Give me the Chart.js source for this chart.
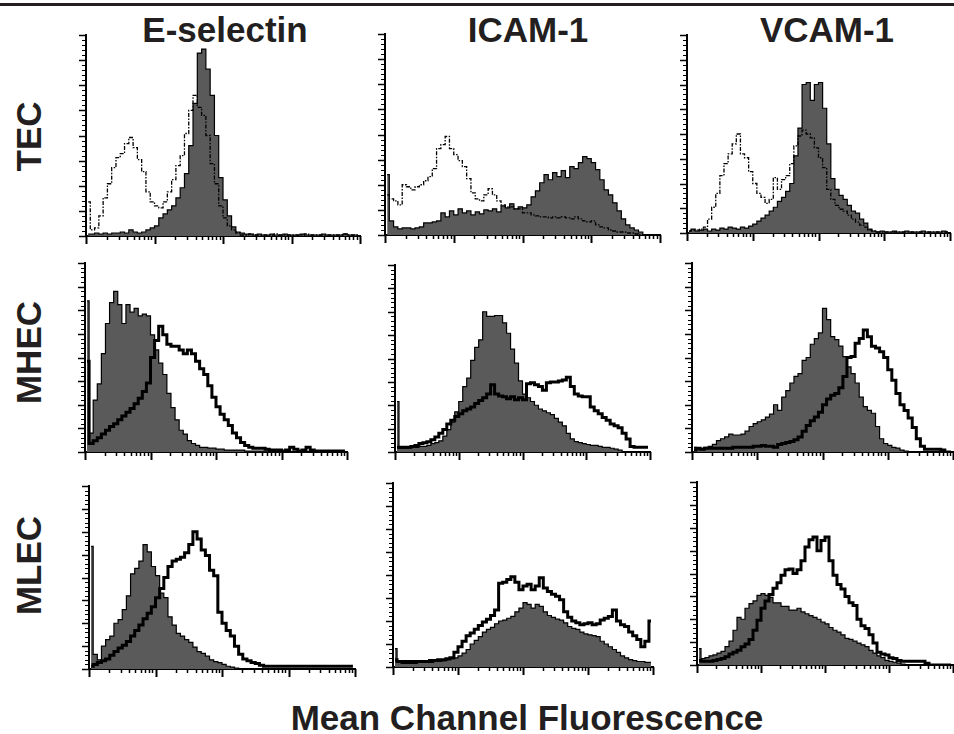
<!DOCTYPE html>
<html>
<head>
<meta charset="utf-8">
<script src="https://cdn.jsdelivr.net/npm/chart.js@4.4.1/dist/chart.umd.min.js"></script>
<style>
    body { margin: 0; background: #fff; width: 954px; height: 734px; position: relative; overflow: hidden;
           font-family: "Liberation Sans", Arial, Helvetica, sans-serif; }
    .topline { position: absolute; left: 0; top: 3px; width: 954px; height: 3px; background: #231f20; }
    .lbl { position: absolute; font-weight: bold; font-size: 35px; line-height: 35px; color: #231f20;
           white-space: nowrap; text-align: center; }
    canvas { position: absolute; }
</style>
</head>
<body>
<div class="topline"></div>
<script>
// Column / row names and axis title
const columnTitles = ['E-selectin', 'ICAM-1', 'VCAM-1'];
const rowTitles = ['TEC', 'MHEC', 'MLEC'];
const xTitle = 'Mean Channel Fluorescence';

// 64 channel bins over 4 log decades (1024 channels, 256 per decade)
const BINS = [8, 24, 40, 56, 72, 88, 104, 120, 136, 152, 168, 184, 200, 216, 232, 248,
    264, 280, 296, 312, 328, 344, 360, 376, 392, 408, 424, 440, 456, 472, 488, 504,
    520, 536, 552, 568, 584, 600, 616, 632, 648, 664, 680, 696, 712, 728, 744, 760,
    776, 792, 808, 824, 840, 856, 872, 888, 904, 920, 936, 952, 968, 984, 1000, 1016];
const DECADES = [0, 256, 512, 768, 1024];
const Y_MAX = 200;

// Row 1 - TEC (filled = antibody, open = control, dash-dot)
const ESEL_TEC_FILLED = [2, 2, 3, 2, 3, 2, 3, 3, 4, 3, 6, 4, 3, 4, 6, 8, 10, 18, 22, 26,
    30, 38, 48, 62, 90, 132, 182, 186, 166, 140, 100, 58, 36, 20, 9, 4, 3, 2, 2, 1,
    2, 1, 1, 2, 1, 1, 2, 1, 1, 1, 2, 1, 1, 1, 1, 2, 1, 1, 1, 1, 2, 1, 1, 1];
const ESEL_TEC_OPEN = [34, 6, 8, 20, 38, 52, 68, 78, 82, 92, 98, 88, 76, 64, 44, 34, 30, 28, 34, 44,
    56, 70, 80, 102, 125, 140, 128, 120, 100, 72, 52, 30, 18, 10, 6, 3, 1, 1, 2, 1,
    1, 1, 1, 1, 2, 1, 1, 1, 1, 1, 1, 2, 1, 1, 1, 1, 1, 1, 1, 1, 2, 1, 1, 1];
const ICAM_TEC_FILLED = [60, 14, 8, 6, 7, 7, 6, 7, 8, 12, 12, 13, 14, 22, 18, 24, 20, 26, 22, 24,
    20, 23, 21, 25, 24, 26, 23, 29, 27, 31, 26, 28, 27, 30, 38, 44, 52, 60, 55, 62,
    58, 64, 57, 68, 66, 72, 78, 76, 72, 65, 55, 45, 40, 32, 24, 16, 10, 7, 5, 3, 0, 0, 0, 0];
const ICAM_TEC_OPEN = [40, 36, 34, 30, 50, 48, 45, 48, 50, 54, 58, 66, 86, 90, 98, 86, 80, 74, 68, 56,
    42, 36, 34, 40, 46, 40, 34, 30, 28, 28, 26, 26, 22, 22, 20, 19, 18, 18, 17, 18,
    17, 18, 17, 16, 18, 16, 14, 13, 14, 10, 8, 7, 5, 4, 3, 3, 2, 2, 1, 0, 0, 0, 0, 0];
const VCAM_TEC_FILLED = [2, 4, 2, 3, 4, 2, 4, 3, 5, 4, 6, 5, 4, 6, 5, 7, 9, 12, 15, 18,
    22, 26, 32, 36, 42, 50, 78, 106, 150, 152, 134, 150, 152, 126, 90, 55, 44, 38, 34, 28,
    22, 20, 14, 10, 4, 2, 1, 2, 1, 1, 2, 1, 1, 2, 1, 1, 1, 2, 1, 1, 1, 1, 2, 1];
const VCAM_TEC_OPEN = [2, 3, 3, 4, 6, 14, 26, 40, 58, 70, 80, 90, 100, 80, 76, 62, 50, 40, 36, 30,
    34, 56, 44, 54, 58, 70, 88, 98, 104, 100, 96, 86, 76, 66, 44, 34, 28, 24, 22, 18,
    14, 11, 8, 6, 3, 2, 1, 1, 1, 1, 1, 1, 1, 1, 1, 1, 1, 1, 1, 1, 1, 1, 1, 1];

// Row 2 - MHEC (filled = control, open = antibody, thick)
const ESEL_MHEC_FILLED = [160, 20, 55, 72, 104, 136, 158, 170, 156, 136, 156, 148, 152, 144, 146, 144, 124, 108, 94, 82,
    62, 47, 34, 23, 19, 12, 9, 7, 5, 5, 4, 4, 3, 3, 2, 2, 2, 2, 2, 1,
    1, 1, 1, 1, 1, 0, 0, 0, 0, 0, 0, 0, 0, 0, 0, 0, 0, 0, 0, 0, 0, 0, 0, 0];
const ESEL_MHEC_OPEN = [96, 9, 12, 15, 19, 23, 27, 30, 34, 38, 42, 46, 51, 57, 64, 73, 100, 118, 133, 124,
    114, 112, 112, 108, 104, 108, 104, 96, 88, 82, 70, 58, 48, 40, 34, 28, 20, 15, 10, 7,
    5, 4, 4, 4, 3, 2, 2, 2, 1, 2, 5, 3, 1, 2, 5, 2, 1, 1, 1, 1, 1, 1, 1, 1];
const ICAM_MHEC_FILLED = [54, 4, 4, 4, 5, 5, 6, 6, 7, 9, 10, 12, 17, 24, 32, 43, 54, 70, 79, 98,
    112, 120, 150, 145, 145, 146, 146, 138, 127, 110, 95, 76, 62, 58, 54, 50, 46, 44, 42, 40,
    36, 32, 28, 20, 14, 11, 10, 9, 8, 7, 7, 6, 5, 5, 4, 3, 2, 0, 0, 0, 0, 0, 0, 0];
const ICAM_MHEC_OPEN = [5, 5, 5, 5, 6, 7, 9, 10, 11, 13, 16, 20, 24, 30, 34, 38, 41, 44, 46, 48,
    52, 55, 58, 62, 72, 62, 60, 59, 57, 59, 56, 58, 56, 73, 74, 72, 70, 66, 74, 75,
    75, 76, 77, 80, 70, 62, 60, 59, 59, 48, 44, 41, 37, 34, 30, 28, 26, 20, 14, 6, 5, 5, 5, 5];
const VCAM_MHEC_FILLED = [5, 3, 3, 5, 6, 8, 12, 14, 16, 19, 18, 18, 19, 22, 27, 30, 32, 34, 37, 40,
    50, 44, 58, 65, 73, 80, 83, 97, 100, 114, 120, 126, 152, 140, 122, 119, 112, 101, 90, 83,
    73, 58, 48, 44, 41, 27, 14, 9, 7, 5, 4, 2, 1, 0, 0, 0, 0, 0, 0, 0, 0, 0, 0, 0];
const VCAM_MHEC_OPEN = [2, 4, 3, 4, 4, 4, 4, 4, 4, 4, 5, 5, 5, 5, 5, 6, 6, 7, 6, 6,
    5, 8, 9, 10, 11, 13, 16, 22, 28, 33, 37, 42, 50, 56, 60, 62, 68, 80, 100, 101,
    115, 120, 129, 122, 112, 110, 106, 100, 87, 76, 62, 50, 44, 36, 26, 14, 6, 3, 3, 3, 3, 2, 0, 0];

// Row 3 - MLEC
const ESEL_MLEC_FILLED = [134, 16, 10, 25, 32, 36, 50, 54, 65, 80, 104, 110, 118, 136, 128, 112, 102, 83, 78, 57,
    48, 39, 36, 32, 29, 24, 19, 17, 14, 10, 8, 7, 5, 3, 2, 1, 0, 0, 0, 0,
    0, 0, 0, 0, 0, 0, 0, 0, 0, 0, 0, 0, 0, 0, 0, 0, 0, 0, 0, 0, 0, 0, 0, 0];
const ESEL_MLEC_OPEN = [3, 5, 7, 9, 11, 15, 19, 23, 26, 30, 36, 42, 48, 55, 61, 68, 78, 88, 100, 112,
    118, 120, 122, 127, 136, 150, 142, 130, 124, 108, 102, 62, 50, 42, 36, 25, 16, 11, 9, 7,
    6, 4, 3, 3, 3, 3, 3, 3, 3, 3, 3, 3, 3, 3, 3, 3, 3, 3, 3, 3, 3, 3, 3, 3];
const ICAM_MLEC_FILLED = [20, 5, 4, 4, 4, 4, 5, 5, 5, 5, 6, 6, 7, 8, 9, 10, 12, 15, 19, 25,
    29, 33, 38, 41, 43, 47, 50, 51, 53, 55, 60, 64, 70, 68, 64, 68, 66, 60, 56, 54,
    52, 51, 48, 44, 42, 41, 38, 36, 35, 34, 33, 28, 25, 22, 19, 16, 12, 10, 8, 7, 6, 6, 5, 5];
const ICAM_MLEC_OPEN = [8, 6, 6, 6, 6, 6, 6, 6, 6, 7, 7, 8, 8, 9, 10, 16, 22, 28, 34, 37,
    41, 45, 49, 52, 56, 62, 91, 92, 95, 98, 92, 84, 88, 90, 84, 88, 97, 86, 82, 79,
    77, 73, 60, 54, 50, 48, 46, 47, 48, 46, 47, 51, 53, 55, 62, 50, 46, 44, 38, 34, 30, 22, 28, 50];
const VCAM_MLEC_FILLED = [18, 7, 8, 10, 11, 13, 15, 20, 26, 38, 52, 50, 62, 67, 70, 76, 78, 76, 74, 68,
    68, 64, 64, 60, 60, 62, 58, 56, 54, 52, 50, 47, 45, 41, 38, 36, 33, 29, 28, 26,
    24, 22, 20, 16, 13, 10, 8, 5, 4, 3, 2, 1, 0, 0, 0, 0, 0, 0, 0, 0, 0, 0, 0, 0];
const VCAM_MLEC_OPEN = [5, 4, 4, 4, 5, 6, 7, 9, 12, 14, 16, 20, 23, 28, 38, 49, 62, 70, 77, 84,
    90, 98, 104, 105, 100, 104, 114, 129, 137, 140, 125, 136, 140, 114, 98, 88, 83, 75, 68, 65,
    50, 43, 40, 33, 24, 14, 12, 11, 8, 7, 5, 4, 4, 4, 4, 4, 4, 2, 0, 0, 0, 0, 0, 0];

// Panel plot boxes [left, top, right, bottom] in page pixels
const panels = [
    { box: [86, 35, 360, 236], filled: ESEL_TEC_FILLED, open: ESEL_TEC_OPEN, dashed: true },
    { box: [385, 34, 660, 235], filled: ICAM_TEC_FILLED, open: ICAM_TEC_OPEN, dashed: true },
    { box: [687, 35, 950, 233], filled: VCAM_TEC_FILLED, open: VCAM_TEC_OPEN, dashed: true },
    { box: [85, 263, 347, 452], filled: ESEL_MHEC_FILLED, open: ESEL_MHEC_OPEN, dashed: false },
    { box: [395, 265, 650, 452], filled: ICAM_MHEC_FILLED, open: ICAM_MHEC_OPEN, dashed: false },
    { box: [692, 263, 953, 452], filled: VCAM_MHEC_FILLED, open: VCAM_MHEC_OPEN, dashed: false },
    { box: [89, 486, 355, 669], filled: ESEL_MLEC_FILLED, open: ESEL_MLEC_OPEN, dashed: false },
    { box: [393, 483, 653, 667], filled: ICAM_MLEC_FILLED, open: ICAM_MLEC_OPEN, dashed: false },
    { box: [697, 482, 953, 665], filled: VCAM_MLEC_FILLED, open: VCAM_MLEC_OPEN, dashed: false }
];

const PAD = { left: 10, top: 4, right: 4, bottom: 12 };

// Draws the small log ticks under the x axis and the count ticks left of the y axis
const axisTicks = {
    id: 'axisTicks',
    afterDraw(chart) {
        const { ctx, scales: { x, y } } = chart;
        ctx.save();
        ctx.strokeStyle = '#000';
        for (let v = 0; v <= Y_MAX; v += 5) {
            const py = Math.round(y.getPixelForValue(v)) + 0.5;
            const major = v % 25 === 0;
            ctx.lineWidth = major ? 1.5 : 1;
            ctx.beginPath();
            ctx.moveTo(x.left - (major ? 7 : 4), py);
            ctx.lineTo(x.left, py);
            ctx.stroke();
        }
        DECADES.forEach((d, i) => {
            const steps = i < DECADES.length - 1 ? [1, 2, 3, 4, 5, 6, 7, 8, 9] : [1];
            steps.forEach(k => {
                const px = Math.round(x.getPixelForValue(d + 256 * Math.log10(k))) + 0.5;
                ctx.lineWidth = k === 1 ? 2 : 1.5;
                ctx.beginPath();
                ctx.moveTo(px, y.bottom);
                ctx.lineTo(px, y.bottom + (k === 1 ? 8 : 4));
                ctx.stroke();
            });
        });
        ctx.restore();
    }
};

const toPoints = vals => BINS.map((c, i) => ({ x: c, y: vals[i] }));

function addLabel(text, cx, top, rotate) {
    const div = document.createElement('div');
    div.className = 'lbl';
    div.textContent = text;
    div.style.width = '600px';
    div.style.left = (cx - 300) + 'px';
    div.style.top = top + 'px';
    if (rotate) div.style.transform = 'rotate(-90deg)';
    document.body.appendChild(div);
}

// Text
[225, 528, 827].forEach((cx, i) => addLabel(columnTitles[i], cx, 12, false));
[136, 352, 565].forEach((cy, i) => addLabel(rowTitles[i], 27.5, cy - 17.5, true));
addLabel(xTitle, 527, 700, false);

// Charts
panels.forEach(p => {
    const [l, t, r, b] = p.box;
    const canvas = document.createElement('canvas');
    const w = r - l + PAD.left + PAD.right;
    const h = b - t + PAD.top + PAD.bottom;
    canvas.width = w;
    canvas.height = h;
    canvas.style.left = (l - PAD.left) + 'px';
    canvas.style.top = (t - PAD.top) + 'px';
    canvas.style.width = w + 'px';
    canvas.style.height = h + 'px';
    document.body.appendChild(canvas);

    const axis = (min, max) => ({
        type: 'linear', min: min, max: max,
        grid: { display: false, drawTicks: false },
        ticks: { display: false },
        border: { display: true, color: '#000', width: 2 }
    });

    new Chart(canvas.getContext('2d'), {
        type: 'line',
        data: {
            datasets: [{
                data: toPoints(p.open),
                order: 0,
                stepped: 'middle',
                fill: false,
                borderColor: '#000',
                borderWidth: p.dashed ? 1.3 : 3,
                borderDash: p.dashed ? [4, 1.5, 1.5, 1.5] : [],
                pointRadius: 0
            }, {
                data: toPoints(p.filled),
                order: 1,
                stepped: 'middle',
                fill: 'origin',
                backgroundColor: '#5a5a5a',
                borderColor: '#000',
                borderWidth: 1.2,
                pointRadius: 0
            }]
        },
        options: {
            responsive: false,
            animation: false,
            devicePixelRatio: 1,
            layout: { padding: PAD, autoPadding: false },
            plugins: { legend: { display: false }, tooltip: { enabled: false } },
            scales: { x: axis(0, 1024), y: axis(0, Y_MAX) }
        },
        plugins: [axisTicks]
    });
});
</script>
</body>
</html>
